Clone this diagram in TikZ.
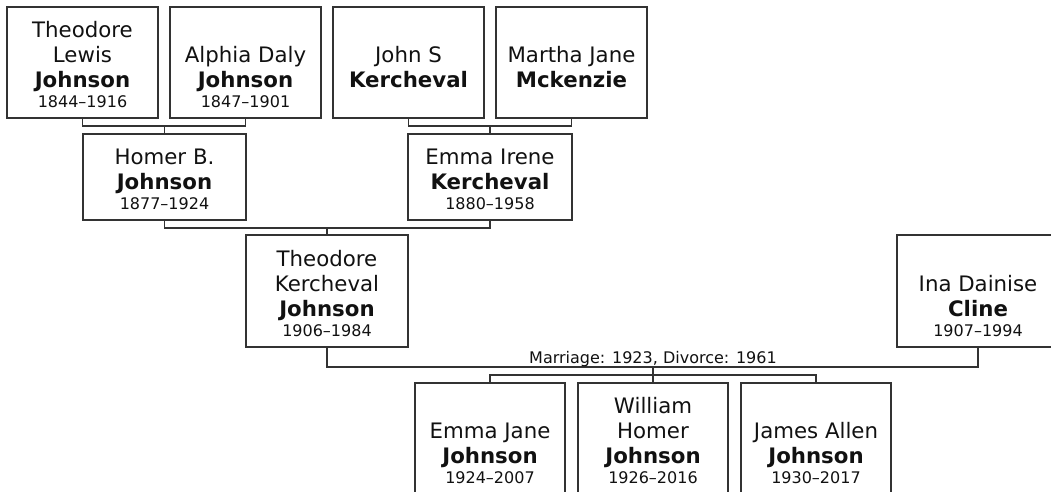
\documentclass[tikz,border=0pt]{standalone}
\usepackage{fontspec}
\setmainfont{DejaVu Sans}
\definecolor{linec}{HTML}{333333}
\definecolor{txtc}{HTML}{111111}
\newcommand\namefont{\fontsize{21.3}{25}\selectfont}
\newcommand\datefont{\fontsize{16}{20}\selectfont}
\newcommand\pp[3]{#1\\\textbf{#2}\\[-5pt]{\datefont\strut #3}}
\tikzset{
  pbox/.style 2 args={draw=linec, line width=1.3pt, rectangle, inner sep=0pt, minimum width=#1, minimum height=#2},
  bigbox/.style={pbox={151pt}{111pt}},
  ptxt/.style={anchor=south, yshift=4.5pt, inner sep=0pt, align=center, font=\namefont, text=txtc},
  link/.style={draw=linec, line width=1.3pt},
  mlab/.style={anchor=base, inner sep=0pt, font=\datefont, text=txtc},
}
\begin{document}
\begin{tikzpicture}[x=1pt,y=-1pt]
\useasboundingbox (0,0) rectangle (1051,491);
\clip (0,0) rectangle (1051,491);
% boxes
\node[bigbox] (TL) at (82.5,62.5) {};
\node[bigbox] (AD) at (245.5,62.5) {};
\node[bigbox] (JS) at (408.5,62.5) {};
\node[bigbox] (MJ) at (571.5,62.5) {};
\node[pbox={163pt}{86pt}] (HB) at (164.5,177) {};
\node[pbox={164pt}{86pt}] (EI) at (490,177) {};
\node[pbox={162pt}{112pt}] (TK) at (327,291) {};
\node[pbox={162pt}{112pt}] (ID) at (978,291) {};
\node[pbox={150pt}{111pt}] (EJ) at (490,438.5) {};
\node[pbox={150pt}{111pt}] (WH) at (653,438.5) {};
\node[pbox={150pt}{111pt}] (JA) at (816,438.5) {};
% texts
\node[ptxt] (TLt) at (TL.south) {\pp{Theodore\\Lewis}{Johnson}{1844–1916}};
\node[ptxt] (ADt) at (AD.south) {\pp{Alphia Daly}{Johnson}{1847–1901}};
\node[ptxt] (JSt) at (JS.south) {\pp{John S}{Kercheval}{}};
\node[ptxt] (MJt) at (MJ.south) {\pp{Martha Jane}{Mckenzie}{}};
\node[ptxt] (HBt) at (HB.south) {\pp{Homer B.}{Johnson}{1877–1924}};
\node[ptxt] (EIt) at (EI.south) {\pp{Emma Irene}{Kercheval}{1880–1958}};
\node[ptxt] (TKt) at (TK.south) {\pp{Theodore\\Kercheval}{Johnson}{1906–1984}};
\node[ptxt] (IDt) at (ID.south) {\pp{Ina Dainise}{Cline}{1907–1994}};
\node[ptxt] (EJt) at (EJ.south) {\pp{Emma Jane}{Johnson}{1924–2007}};
\node[ptxt] (WHt) at (WH.south) {\pp{William\\Homer}{Johnson}{1926–2016}};
\node[ptxt] (JAt) at (JA.south) {\pp{James Allen}{Johnson}{1930–2017}};
% junctions
\coordinate (m1) at (164.5,126);
\coordinate (m2) at (490,126);
\coordinate (m3) at (327,228);
\coordinate (m4) at (653,367);
\coordinate (m5) at (653,375);
% connectors
\draw[link] (TL.south) |- (m1) -| (AD.south);
\draw[link] (m1) -- (HB.north);
\draw[link] (JS.south) |- (m2) -| (MJ.south);
\draw[link] (m2) -- (EI.north);
\draw[link] (HB.south) |- (m3) -| (EI.south);
\draw[link] (m3) -- (TK.north);
\draw[link] (TK.south) |- (m4) -| (ID.south);
\draw[link] (m4) -- (WH.north);
\draw[link] (EJ.north) |- (m5) -| (JA.north);
\node[mlab] (ml) at (653,363.5) {Marriage: 1923, Divorce: 1961};
\end{tikzpicture}
\end{document}
